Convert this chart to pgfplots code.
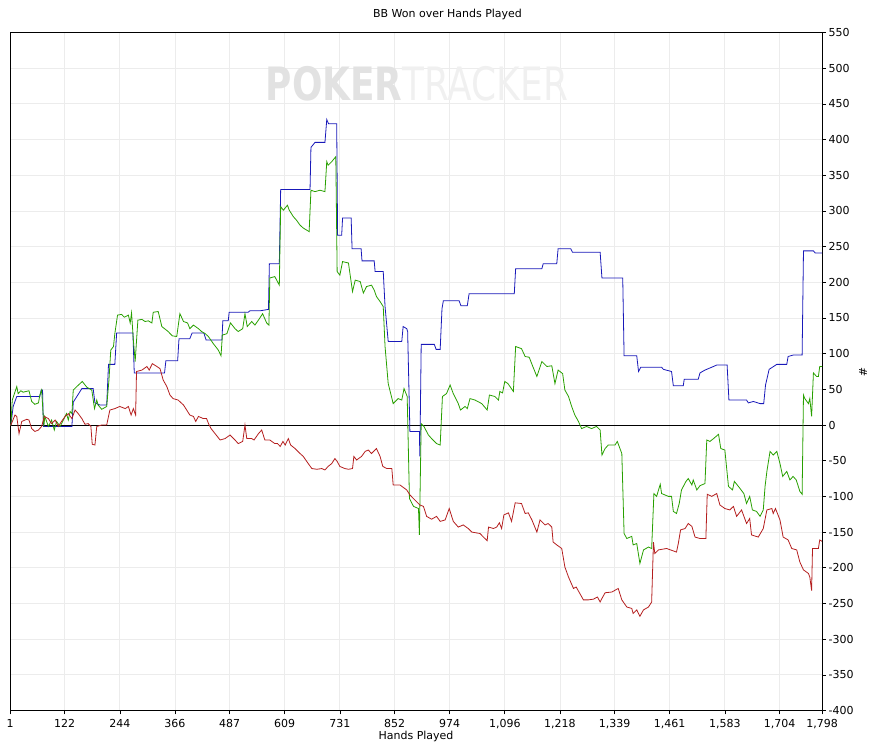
\documentclass[border=0pt]{standalone}
\usepackage{pgfplots}
\pgfplotsset{compat=1.18}
\usepackage{fontspec}
\setmainfont{DejaVu Sans}
\setsansfont{DejaVu Sans}
\definecolor{cblue}{RGB}{25,25,185}
\definecolor{cgreen}{RGB}{40,160,0}
\definecolor{cred}{RGB}{180,30,30}
\definecolor{cgrid}{RGB}{236,236,236}
\begin{document}
\begin{tikzpicture}[font=\fontsize{11}{13}\selectfont]
\useasboundingbox (0,0) rectangle (875pt,743pt);
\begin{axis}[
  at={(10pt,32.5pt)}, anchor=south west,
  scale only axis, width=812pt, height=678pt,
  xmin=1, xmax=1798, ymin=-400, ymax=550,
  axis line style={black, line width=0.8pt},
  xtick={1,122,244,366,487,609,731,852,974,1096,1218,1339,1461,1583,1704,1798},
  xticklabels={1,122,244,366,487,609,731,852,974,{1,096},{1,218},{1,339},{1,461},{1,583},{1,704},{1,798}},
  ytick={-400,-350,-300,-250,-200,-150,-100,-50,0,50,100,150,200,250,300,350,400,450,500,550},
  yticklabels={-400,-350,-300,-250,-200,-150,-100,-50,0,50,100,150,200,250,300,350,400,450,500,550},
  xtick pos=left, ytick pos=right, tick align=outside,
  major tick length=4pt,
  tick style={black, line width=0.6pt},
  xticklabel style={yshift=-1pt},
  yticklabel style={xshift=-1pt},
  grid=major, major grid style={cgrid, line width=0.8pt},
  clip=true,
]
\node[font=\fontsize{46}{50}\selectfont\bfseries, xscale=0.78, anchor=center] at (rel axis cs:0.501,0.925)
  {\textcolor[RGB]{226,226,226}{POKER}\textcolor[RGB]{240,240,240}{\mdseries TRACKER}};
\draw[black, line width=0.7pt] (axis cs:1,0) -- (axis cs:1798,0);
% Blue
\addplot[cblue, line width=0.8pt] coordinates {
(1,0)(3,0)(8,26)(16,40)(67,40)(70,49)(73,49)(75,-2)(138,-2)(141,32)(160,51)(185,51)(189,31)(200,28)(215,28)(219,85)(233,85)(237,129)(273,129)(276,73)(343,73)(346,90)(372,90)(375,121)(399,121)(404,129)(430,129)(435,119)(470,119)(472,146)(484,146)(486,158)(528,158)(532,160)(554,160)(573,162)(575,226)(597,226)(600,330)(665,330)(667,389)(676,396)(698,396)(702,428)(706,422)(724,422)(726,266)(735,266)(737,290)(756,290)(758,247)(778,247)(780,230)(807,230)(809,215)(827,215)(831,166)(838,117)(868,117)(871,138)(879,135)(881,131)(886,-9)(907,-9)(908,-44)(911,113)(940,113)(944,106)(953,106)(957,163)(960,174)(995,174)(999,167)(1013,167)(1017,184)(1117,184)(1120,219)(1178,219)(1181,226)(1211,226)(1214,247)(1242,247)(1246,242)(1307,242)(1311,206)(1357,206)(1360,97)(1388,97)(1392,75)(1397,81)(1443,81)(1447,78)(1465,75)(1469,55)(1491,55)(1493,64)(1524,64)(1528,73)(1539,77)(1554,81)(1565,84)(1588,84)(1592,35)(1631,35)(1635,31)(1646,33)(1661,30)(1669,30)(1673,56)(1681,78)(1698,85)(1720,85)(1723,96)(1734,98)(1754,98)(1757,244)(1779,244)(1783,241)(1798,241)
};
% Green
\addplot[cgreen, line width=0.8pt] coordinates {
(1,0)(3,0)(6,35)(16,54)(19,44)(25,48)(30,46)(43,48)(49,33)(56,29)(64,31)(67,42)(71,49)(76,-2)(78,12)(86,-2)(93,7)(99,-7)(104,5)(112,-2)(126,16)(130,7)(134,19)(138,16)(141,49)(149,54)(161,61)(171,53)(182,49)(188,23)(193,35)(196,28)(204,22)(215,26)(220,63)(224,105)(230,110)(233,128)(239,154)(248,155)(254,151)(263,154)(267,143)(270,157)(274,119)(278,89)(284,147)(293,148)(300,145)(307,146)(315,143)(318,158)(329,159)(337,138)(351,131)(360,125)(370,124)(377,156)(385,145)(394,143)(399,135)(407,140)(418,135)(425,131)(433,128)(440,124)(451,114)(462,105)(468,97)(471,126)(481,128)(489,143)(499,135)(506,131)(516,135)(521,156)(526,138)(536,145)(543,140)(554,150)(560,156)(569,143)(574,140)(576,206)(587,208)(597,196)(600,306)(606,301)(615,308)(619,301)(628,292)(635,287)(643,280)(650,276)(663,271)(667,329)(676,327)(687,329)(698,327)(702,369)(705,364)(713,369)(722,376)(725,215)(731,210)(737,229)(750,227)(759,187)(765,203)(776,201)(783,185)(790,194)(801,196)(807,189)(812,180)(820,173)(827,166)(831,110)(838,58)(849,30)(860,37)(868,35)(873,51)(880,40)(885,-103)(894,-114)(905,-117)(907,-154)(911,2)(917,-2)(927,-14)(934,-19)(945,-26)(953,-28)(958,40)(967,44)(975,56)(982,44)(993,30)(998,21)(1008,26)(1013,23)(1019,37)(1030,35)(1045,30)(1057,21)(1062,42)(1074,40)(1082,35)(1085,47)(1091,45)(1096,61)(1103,58)(1115,47)(1120,110)(1133,107)(1141,96)(1150,95)(1158,82)(1167,68)(1178,89)(1189,82)(1200,83)(1207,58)(1214,77)(1224,72)(1229,49)(1237,40)(1244,26)(1251,14)(1259,5)(1266,-5)(1277,-2)(1288,-5)(1299,-2)(1307,-7)(1311,-42)(1318,-33)(1325,-28)(1340,-28)(1345,-23)(1355,-40)(1360,-152)(1366,-159)(1377,-156)(1380,-168)(1388,-166)(1395,-194)(1403,-175)(1414,-171)(1421,-173)(1426,-96)(1432,-100)(1440,-83)(1443,-96)(1458,-100)(1465,-100)(1469,-121)(1476,-124)(1482,-110)(1487,-91)(1497,-79)(1502,-75)(1510,-84)(1513,-77)(1521,-91)(1528,-85)(1539,-82)(1543,-21)(1550,-23)(1558,-19)(1569,-13)(1574,-33)(1583,-35)(1591,-86)(1600,-91)(1604,-79)(1613,-86)(1625,-96)(1631,-110)(1638,-100)(1644,-119)(1653,-121)(1661,-128)(1668,-119)(1672,-86)(1676,-65)(1683,-37)(1690,-42)(1698,-37)(1705,-54)(1711,-72)(1720,-65)(1727,-77)(1734,-72)(1741,-77)(1749,-93)(1754,-97)(1757,42)(1760,37)(1768,30)(1771,37)(1775,12)(1779,73)(1786,68)(1790,68)(1793,82)(1798,82)
};
% Red
\addplot[cred, line width=0.8pt] coordinates {
(1,0)(3,0)(12,14)(16,12)(21,-12)(27,5)(38,8)(43,7)(49,-5)(56,-9)(64,-7)(71,-2)(77,12)(86,9)(93,2)(101,7)(108,-2)(115,5)(123,12)(130,16)(138,9)(145,21)(152,16)(160,9)(167,1)(174,2)(180,-2)(183,-27)(189,-28)(193,-2)(204,0)(215,0)(222,21)(233,23)(244,26)(256,23)(263,26)(269,14)(274,23)(279,14)(281,75)(293,77)(304,82)(309,77)(316,86)(326,82)(333,79)(340,63)(348,54)(355,42)(362,37)(373,35)(385,28)(392,21)(399,14)(407,12)(412,5)(418,12)(429,9)(436,9)(441,1)(446,-5)(451,-9)(466,-21)(477,-19)(488,-14)(499,-21)(506,-26)(516,-23)(521,0)(525,-19)(536,-19)(541,-21)(551,-12)(558,-7)(565,-21)(576,-21)(587,-26)(593,-26)(599,-30)(605,-23)(610,-28)(617,-19)(622,-28)(632,-33)(643,-40)(650,-44)(661,-54)(669,-61)(680,-62)(691,-61)(698,-63)(705,-58)(713,-54)(720,-47)(725,-51)(731,-58)(742,-61)(750,-62)(759,-61)(762,-44)(768,-49)(779,-44)(787,-37)(794,-35)(801,-40)(812,-33)(820,-44)(826,-58)(835,-61)(846,-61)(849,-84)(864,-84)(879,-91)(886,-98)(897,-105)(908,-112)(916,-114)(923,-128)(934,-132)(945,-128)(953,-135)(964,-133)(973,-117)(982,-135)(993,-143)(1004,-140)(1015,-145)(1023,-150)(1041,-152)(1052,-159)(1057,-162)(1060,-143)(1071,-145)(1078,-143)(1084,-137)(1089,-145)(1094,-126)(1104,-123)(1111,-135)(1119,-109)(1133,-110)(1141,-124)(1148,-123)(1156,-133)(1167,-150)(1174,-133)(1185,-140)(1192,-138)(1200,-143)(1203,-164)(1211,-168)(1222,-173)(1229,-199)(1237,-213)(1248,-229)(1254,-227)(1262,-236)(1270,-245)(1281,-245)(1292,-244)(1301,-241)(1307,-248)(1311,-243)(1318,-235)(1333,-234)(1347,-229)(1355,-245)(1366,-255)(1377,-257)(1380,-264)(1388,-259)(1395,-268)(1403,-259)(1414,-255)(1421,-248)(1425,-164)(1428,-180)(1436,-175)(1454,-173)(1476,-178)(1480,-166)(1485,-147)(1495,-145)(1502,-138)(1510,-142)(1517,-157)(1528,-159)(1541,-159)(1544,-97)(1554,-100)(1565,-96)(1572,-112)(1583,-117)(1594,-119)(1602,-114)(1609,-128)(1620,-119)(1631,-138)(1638,-131)(1642,-154)(1657,-157)(1668,-145)(1676,-119)(1687,-117)(1690,-124)(1695,-117)(1705,-133)(1712,-157)(1723,-161)(1731,-173)(1742,-175)(1749,-192)(1757,-203)(1768,-208)(1771,-213)(1775,-232)(1777,-173)(1790,-173)(1793,-161)(1798,-163)
};
\end{axis}
\node at (447.5pt,729pt) {BB Won over Hands Played};
\node[inner sep=0pt, anchor=south] at (416pt,1pt) {Hands Played};
\node[rotate=-90] at (863pt,371pt) {\#};
\end{tikzpicture}
\end{document}
